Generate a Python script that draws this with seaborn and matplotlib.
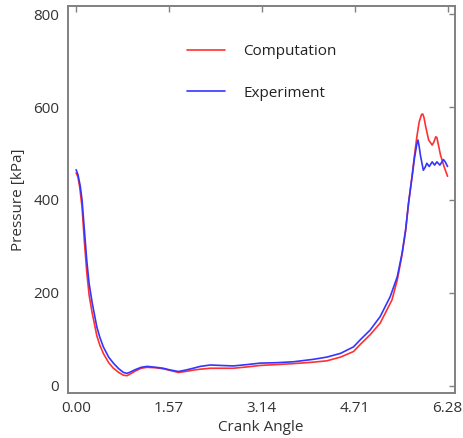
import numpy as np
import pandas as pd
import matplotlib
matplotlib.use("Agg")
import matplotlib.pyplot as plt
import seaborn as sns

# Computation (red)
comp_x = [0.00, 0.03, 0.06, 0.10, 0.14, 0.18, 0.22, 0.27, 0.35, 0.40, 0.46, 0.55, 0.63, 0.72,
          0.80, 0.86, 0.92, 1.00, 1.10, 1.20, 1.35, 1.47, 1.60, 1.73, 1.85, 1.98, 2.10, 2.27,
          2.45, 2.66, 2.90, 3.11, 3.40, 3.68, 4.00, 4.24, 4.47, 4.69, 4.81, 4.97, 5.14, 5.34,
          5.43, 5.51, 5.57, 5.62, 5.68, 5.72, 5.76, 5.80, 5.84, 5.86, 5.88, 5.91, 5.96, 6.02,
          6.05, 6.08, 6.10, 6.16, 6.22, 6.28]
comp_y = [458, 450, 428, 385, 310, 245, 195, 158, 108, 88, 70, 50, 38, 29,
          23, 22, 26, 32, 38, 40, 39, 37, 33, 29, 31, 34, 36, 38,
          38, 38, 41, 44, 46, 48, 51, 54, 62, 74, 90, 110, 135, 185,
          228, 282, 333, 393, 452, 495, 535, 568, 584, 585, 578, 558, 529, 518,
          525, 536, 534, 497, 472, 451]

# Experiment (blue)
exp_x = [0.00, 0.03, 0.07, 0.10, 0.14, 0.18, 0.22, 0.27, 0.35, 0.40, 0.46, 0.55, 0.63, 0.72,
         0.80, 0.86, 0.92, 1.00, 1.10, 1.20, 1.35, 1.47, 1.60, 1.73, 1.85, 1.98, 2.10, 2.27,
         2.45, 2.66, 2.90, 3.11, 3.40, 3.68, 4.00, 4.24, 4.47, 4.69, 4.81, 4.97, 5.14, 5.31,
         5.43, 5.51, 5.57, 5.62, 5.68, 5.72, 5.76, 5.78, 5.80, 5.82, 5.87, 5.90, 5.93, 5.97,
         6.02, 6.06, 6.10, 6.15, 6.21, 6.24, 6.28]
exp_y = [465, 455, 430, 400, 335, 270, 220, 180, 127, 105, 84, 62, 49, 37,
         29, 27, 30, 35, 40, 42, 40, 38, 34, 31, 34, 38, 42, 45,
         44, 43, 46, 49, 50, 52, 57, 62, 70, 84, 100, 120, 149, 192,
         235, 285, 335, 393, 450, 490, 520, 529, 515, 497, 464, 470, 479, 472,
         482, 475, 482, 475, 487, 482, 472]

x_ticks = [0.00, 1.57, 3.14, 4.71, 6.28]
x_tick_labels = ["0.00", "1.57", "3.14", "4.71", "6.28"]
y_ticks = [0, 200, 400, 600, 800]

df = pd.concat([
    pd.DataFrame({"angle": comp_x, "pressure": comp_y, "series": "Computation"}),
    pd.DataFrame({"angle": exp_x, "pressure": exp_y, "series": "Experiment"}),
], ignore_index=True)

sns.set_theme(style="white")
plt.rcParams['font.family'] = ['Open Sans', 'DejaVu Sans']

fig = plt.figure(figsize=(4.63, 4.38), dpi=100)
ax = fig.add_axes([0.146, 0.103, 0.836, 0.883])

sns.lineplot(data=df, x="angle", y="pressure", hue="series", sort=False,
             palette={"Computation": "#ff3030", "Experiment": "#3535ff"},
             linewidth=1.2, ax=ax, estimator=None)

ax.set_xlim(-0.144, 6.40)
ax.set_ylim(-15, 817)
ax.set_xticks(x_ticks)
ax.set_xticklabels(x_tick_labels)
ax.set_yticks(y_ticks)
ax.tick_params(direction="in", length=4, width=1, color="#808080",
               top=True, right=True, labelsize=11, labelcolor="#333333", pad=6)
for s in ax.spines.values():
    s.set_color("#808080")
    s.set_linewidth(1.4)
ax.set_xlabel("Crank Angle", fontsize=11, color="#333333", labelpad=3)
ax.set_ylabel("Pressure [kPa]", fontsize=11, color="#333333", labelpad=5)

leg = ax.legend(loc="upper left", bbox_to_anchor=(0.308, 0.902), frameon=False,
                fontsize=11, handlelength=2.5, handletextpad=1.2, labelspacing=1.75,
                borderpad=0, borderaxespad=0)
for t in leg.get_texts():
    t.set_color("#222222")

fig.savefig("out.png", dpi=100)
